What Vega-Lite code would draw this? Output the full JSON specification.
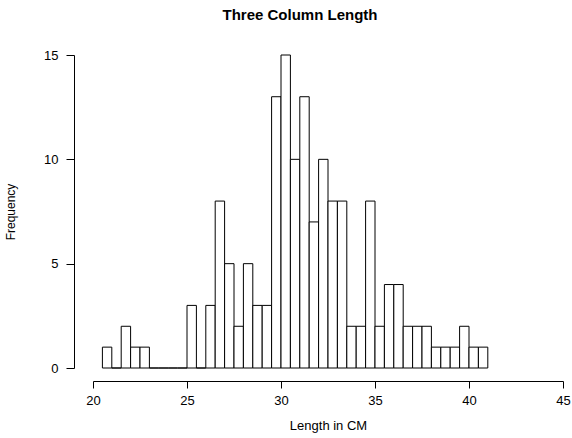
{
  "$schema": "https://vega.github.io/schema/vega-lite/v6.json",
  "width": 470,
  "height": 313,
  "autosize": {"type": "none"},
  "padding": {"left": 93, "top": 55, "right": 9, "bottom": 70},
  "background": "white",
  "config": {
    "view": {"stroke": null},
    "font": "Liberation Sans"
  },
  "title": {
    "text": "Three Column Length",
    "font": "Liberation Sans",
    "fontSize": 15,
    "fontWeight": "bold",
    "color": "black",
    "anchor": "middle",
    "frame": "group",
    "dx": -28,
    "offset": 26
  },
  "data": {
    "values": [
      {"start": 20.5, "end": 21.0, "count": 1},
      {"start": 21.0, "end": 21.5, "count": 0},
      {"start": 21.5, "end": 22.0, "count": 2},
      {"start": 22.0, "end": 22.5, "count": 1},
      {"start": 22.5, "end": 23.0, "count": 1},
      {"start": 23.0, "end": 23.5, "count": 0},
      {"start": 23.5, "end": 24.0, "count": 0},
      {"start": 24.0, "end": 24.5, "count": 0},
      {"start": 24.5, "end": 25.0, "count": 0},
      {"start": 25.0, "end": 25.5, "count": 3},
      {"start": 25.5, "end": 26.0, "count": 0},
      {"start": 26.0, "end": 26.5, "count": 3},
      {"start": 26.5, "end": 27.0, "count": 8},
      {"start": 27.0, "end": 27.5, "count": 5},
      {"start": 27.5, "end": 28.0, "count": 2},
      {"start": 28.0, "end": 28.5, "count": 5},
      {"start": 28.5, "end": 29.0, "count": 3},
      {"start": 29.0, "end": 29.5, "count": 3},
      {"start": 29.5, "end": 30.0, "count": 13},
      {"start": 30.0, "end": 30.5, "count": 15},
      {"start": 30.5, "end": 31.0, "count": 10},
      {"start": 31.0, "end": 31.5, "count": 13},
      {"start": 31.5, "end": 32.0, "count": 7},
      {"start": 32.0, "end": 32.5, "count": 10},
      {"start": 32.5, "end": 33.0, "count": 8},
      {"start": 33.0, "end": 33.5, "count": 8},
      {"start": 33.5, "end": 34.0, "count": 2},
      {"start": 34.0, "end": 34.5, "count": 2},
      {"start": 34.5, "end": 35.0, "count": 8},
      {"start": 35.0, "end": 35.5, "count": 2},
      {"start": 35.5, "end": 36.0, "count": 4},
      {"start": 36.0, "end": 36.5, "count": 4},
      {"start": 36.5, "end": 37.0, "count": 2},
      {"start": 37.0, "end": 37.5, "count": 2},
      {"start": 37.5, "end": 38.0, "count": 2},
      {"start": 38.0, "end": 38.5, "count": 1},
      {"start": 38.5, "end": 39.0, "count": 1},
      {"start": 39.0, "end": 39.5, "count": 1},
      {"start": 39.5, "end": 40.0, "count": 2},
      {"start": 40.0, "end": 40.5, "count": 1},
      {"start": 40.5, "end": 41.0, "count": 1}
    ]
  },
  "mark": {"type": "rect", "fill": "white", "stroke": "black", "strokeWidth": 1, "clip": false},
  "encoding": {
    "x": {
      "field": "start",
      "type": "quantitative",
      "scale": {"domain": [20, 45], "nice": false, "zero": false},
      "axis": {
        "title": "Length in CM",
        "values": [20, 25, 30, 35, 40, 45],
        "grid": false,
        "offset": 13,
        "domainColor": "black",
        "tickColor": "black",
        "tickSize": 7,
        "labelPadding": 6,
        "labelFontSize": 13,
        "labelColor": "black",
        "labelFlush": false,
        "titleFontSize": 13,
        "titleFontWeight": "normal",
        "titleColor": "black",
        "titlePadding": 12
      }
    },
    "x2": {"field": "end"},
    "y": {
      "field": "count",
      "type": "quantitative",
      "scale": {"domain": [0, 15], "nice": false},
      "axis": {
        "title": "Frequency",
        "values": [0, 5, 10, 15],
        "grid": false,
        "offset": 19,
        "domainColor": "black",
        "tickColor": "black",
        "tickSize": 8,
        "labelPadding": 8,
        "labelFontSize": 13,
        "labelColor": "black",
        "labelFlush": false,
        "titleFontSize": 12,
        "titleFontWeight": "normal",
        "titleColor": "black",
        "titlePadding": 26
      }
    },
    "y2": {"datum": 0}
  }
}
